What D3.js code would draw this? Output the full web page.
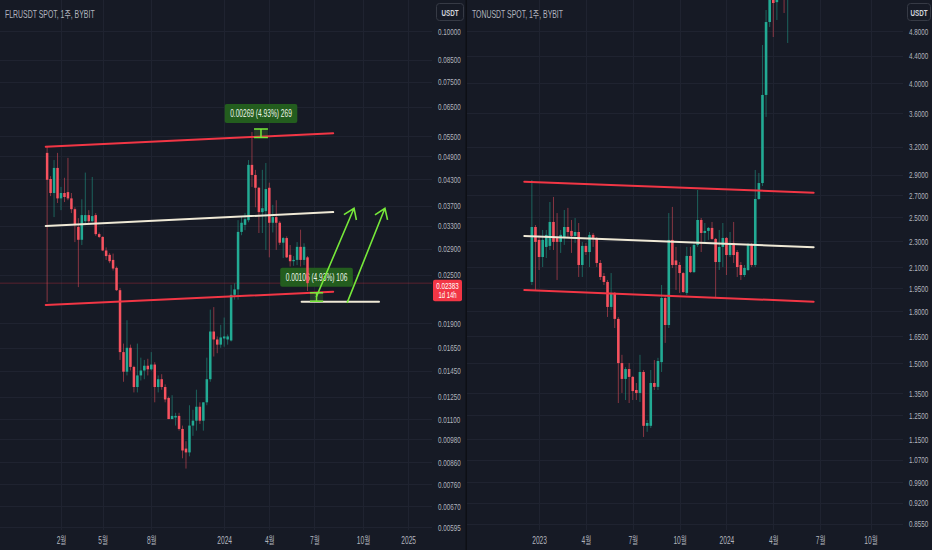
<!DOCTYPE html>
<html>
<head>
<meta charset="utf-8">
<script src="https://cdn.jsdelivr.net/npm/d3@7/dist/d3.min.js"></script>
<style>
  html, body { margin: 0; background: #161a25; }
  svg { display: block; }
</style>
</head>
<body>
<svg id="chart"></svg>
<script>
// ---------- FLR weekly ----------
const flrTitle = "FLRUSDT SPOT, 1주, BYBIT";
const flrStart = "2023-01-09";
// [open, high, low, close]
const flrCandles = [
  [0.0500,0.0517,0.0214,0.0429],[0.0431,0.0438,0.0391,0.0398],[0.0398,0.0480,0.0347,0.0459],
  [0.0459,0.0500,0.0376,0.0386],[0.0386,0.0412,0.0361,0.0398],[0.0398,0.0434,0.0378,0.0389],
  [0.0400,0.0486,0.0382,0.0386],[0.0386,0.0398,0.0355,0.0363],[0.0363,0.0367,0.0301,0.0332],
  [0.0328,0.0345,0.0233,0.0305],[0.0305,0.0384,0.0296,0.0351],[0.0339,0.0447,0.0332,0.0351],
  [0.0351,0.0361,0.0332,0.0339],[0.0339,0.0436,0.0337,0.0349],[0.0351,0.0355,0.0312,0.0315],
  [0.0315,0.0318,0.0308,0.0310],[0.0310,0.0311,0.0286,0.0287],[0.0287,0.0292,0.0272,0.0278],
  [0.0280,0.0283,0.0267,0.0270],[0.0272,0.0282,0.0256,0.0259],[0.0260,0.0262,0.0228,0.0229],
  [0.0229,0.0232,0.0154,0.0161],[0.0161,0.0169,0.0136,0.0144],[0.0144,0.0193,0.0141,0.0165],
  [0.0165,0.0168,0.0145,0.0148],[0.0148,0.0149,0.0128,0.0132],[0.0132,0.0169,0.0128,0.0141],
  [0.0141,0.0156,0.0137,0.0145],[0.0145,0.0154,0.0138,0.0149],[0.0149,0.0155,0.0141,0.0146],
  [0.0146,0.0161,0.0145,0.0150],[0.0150,0.0152,0.0121,0.0132],[0.0132,0.0141,0.0128,0.0138],
  [0.0138,0.0142,0.0130,0.0132],[0.0132,0.0134,0.0121,0.0123],[0.0124,0.0125,0.0110,0.0110],
  [0.0110,0.0126,0.0110,0.0112],[0.0111,0.0114,0.0106,0.0112],[0.0112,0.0114,0.0103,0.0104],
  [0.0104,0.0106,0.0088,0.0092],[0.0093,0.0097,0.0083,0.0091],[0.0091,0.0119,0.0089,0.0106],
  [0.0106,0.0116,0.0100,0.0109],[0.0109,0.0130,0.0103,0.0118],[0.0118,0.0121,0.0107,0.0109],
  [0.0109,0.0121,0.0103,0.0121],[0.0121,0.0156,0.0119,0.0138],[0.0138,0.0205,0.0136,0.0181],
  [0.0181,0.0208,0.0157,0.0173],[0.0173,0.0176,0.0160,0.0168],[0.0168,0.0188,0.0165,0.0175],
  [0.0174,0.0196,0.0166,0.0176],[0.0173,0.0178,0.0168,0.0176],[0.0172,0.0236,0.0171,0.0223],
  [0.0223,0.0238,0.0217,0.0230],[0.0230,0.0341,0.0217,0.0319],[0.0319,0.0347,0.0313,0.0336],
  [0.0332,0.0355,0.0322,0.0343],[0.0341,0.0480,0.0337,0.0467],[0.0467,0.0563,0.0412,0.0441],
  [0.0441,0.0454,0.0367,0.0410],[0.0410,0.0412,0.0317,0.0357],[0.0357,0.0454,0.0317,0.0365],
  [0.0359,0.0472,0.0288,0.0407],[0.0410,0.0422,0.0276,0.0336],[0.0336,0.0372,0.0318,0.0347],
  [0.0347,0.0382,0.0288,0.0336],[0.0336,0.0339,0.0296,0.0300],[0.0300,0.0310,0.0275,0.0308],
  [0.0308,0.0311,0.0275,0.0276],[0.0280,0.0296,0.0262,0.0270],[0.0270,0.0278,0.0263,0.0272],
  [0.0272,0.0301,0.0264,0.0293],[0.0293,0.0323,0.0262,0.0272],[0.0272,0.0299,0.0264,0.0293],
  [0.0276,0.0278,0.0228,0.02383]
];
const flrTicks = [0.1, 0.085, 0.075, 0.065, 0.055, 0.049, 0.043, 0.037, 0.033, 0.029, 0.025,
                  0.019, 0.0165, 0.0145, 0.0125, 0.011, 0.0098, 0.0086, 0.0076, 0.0067, 0.00595];
const flrMonths = [["2023-02-06","2월"],["2023-05-01","5월"],["2023-08-07","8월"],["2024-01-01","2024"],
                   ["2024-04-01","4월"],["2024-07-01","7월"],["2024-10-07","10월"],["2025-01-06","2025"]];
const flrLast = 0.02383, flrCountdown = "1d 14h";
// drawings: [bar index, price]
const flrUpper = [[-0.4, 0.0518], [82.4, 0.0559]];
const flrLower = [[-0.4, 0.02104], [82.4, 0.0227]];
const flrMid   = [[-0.4, 0.0330], [82.4, 0.0357]];
const flrBase  = [[73.3, 0.02144], [95.6, 0.02144]];
const flrArrows = [[[77.5, 0.0220], [88.4, 0.0365]], [[86.4, 0.0213], [97.3, 0.0365]]];
const flrRanges = [
  {from: 59.6, to: 63.6, low: 0.05458, high: 0.05727, text: "0.00269 (4.93%) 269"},
  {from: 75.7, to: 79.5, low: 0.02150, high: 0.02256, text: "0.00106 (4.93%) 106"}
];

// ---------- TON weekly ----------
const tonTitle = "TONUSDT SPOT, 1주, BYBIT";
const tonStart = "2022-12-19";
const tonCandles = [
  [1.994,2.849,1.973,2.417],[2.417,2.434,1.939,2.294],[2.310,2.334,2.079,2.176],[2.176,2.392,2.101,2.310],
  [2.254,2.392,2.168,2.351],[2.262,2.638,2.230,2.460],[2.460,2.685,2.230,2.294],[2.326,2.538,2.008,2.294],
  [2.294,2.392,2.207,2.351],[2.334,2.565,2.270,2.417],[2.417,2.584,2.334,2.375],[2.384,2.477,2.207,2.343],
  [2.343,2.494,2.286,2.375],[2.375,2.451,2.029,2.116],[2.116,2.294,2.029,2.262],[2.262,2.286,2.191,2.214],
  [2.214,2.375,2.101,2.351],[2.351,2.367,2.254,2.326],[2.326,2.334,2.101,2.131],[2.131,2.153,2.008,2.029],
  [2.036,2.057,1.973,1.994],[1.994,2.008,1.764,1.827],[1.827,2.057,1.808,1.919],[1.919,1.925,1.697,1.752],
  [1.752,1.764,1.305,1.501],[1.501,1.545,1.352,1.420],[1.420,1.480,1.319,1.470],[1.470,1.501,1.305,1.430],
  [1.430,1.435,1.319,1.361],[1.366,1.400,1.319,1.352],[1.352,1.545,1.310,1.455],[1.455,1.465,1.159,1.205],
  [1.205,1.230,1.180,1.217],[1.205,1.465,1.196,1.400],[1.400,1.517,1.366,1.381],[1.381,1.529,1.366,1.512],
  [1.506,1.973,1.455,1.885],[1.885,1.905,1.611,1.715],[1.715,2.538,1.697,2.310],[2.310,2.593,2.094,2.116],
  [2.150,2.254,1.939,2.116],[2.116,2.138,1.919,2.057],[2.057,2.064,1.919,1.925],[1.919,2.254,1.905,2.184],
  [2.184,2.254,2.057,2.064],[2.064,2.286,2.057,2.270],[2.270,2.751,2.254,2.477],[2.477,2.494,2.214,2.367],
  [2.367,2.451,2.286,2.384],[2.384,2.417,2.310,2.409],[2.409,2.460,2.310,2.318],[2.318,2.326,1.892,2.138],
  [2.138,2.392,2.079,2.254],[2.254,2.451,2.101,2.326],[2.326,2.334,2.043,2.191],[2.191,2.375,2.176,2.286],
  [2.286,2.460,2.131,2.191],[2.214,2.230,2.029,2.101],[2.116,2.138,2.008,2.043],[2.043,2.116,2.029,2.094],
  [2.079,2.286,2.072,2.270],[2.270,2.286,2.101,2.116],[2.116,2.951,2.101,2.666],[2.666,2.920,2.657,2.819],
  [2.819,4.570,2.790,3.837],[3.837,5.166,3.553,4.953],[4.953,6.300,4.868,5.900],[5.900,6.400,4.700,5.294],
  [5.310,6.200,4.988,5.800],[5.800,6.900,5.450,6.500],[6.500,7.300,5.112,6.200],[6.200,7.200,4.603,6.900]
];
const tonTicks = [4.8, 4.4, 4.0, 3.6, 3.2, 2.9, 2.7, 2.5, 2.3, 2.1, 1.95, 1.8, 1.65, 1.5,
                  1.35, 1.25, 1.15, 1.07, 0.99, 0.92, 0.855];
const tonMonths = [["2023-01-02","2023"],["2023-04-03","4월"],["2023-07-03","7월"],["2023-10-02","10월"],
                   ["2024-01-01","2024"],["2024-04-01","4월"],["2024-07-01","7월"],["2024-10-07","10월"]];
const tonUpper = [[-2.1, 2.832], [78.2, 2.725]];
const tonMid   = [[-2.1, 2.342], [78.2, 2.251]];
const tonLower = [[-2.1, 1.939], [78.2, 1.861]];

// ---------- look ----------
const W = 932, H = 550, plotH = 530;
const DAY = 864e5;
const SX = 0.66;   // screenshot text is horizontally squeezed
const FONT = "'Liberation Sans', Arial, 'Noto Sans CJK KR', sans-serif";
const BG = "#161a25", GRID = "#1f2330", TEXT = "#b2b5be";
const UP = "#22ab94", DOWN = "#f7525f";
const RED = "#f23645", CREAM = "#efe9d6", LIME = "#76e83a", LABEL = "#235d1e";

const parseDay = d3.utcParse("%Y-%m-%d");

const svg = d3.select("#chart").attr("width", W).attr("height", H)
  .style("background", BG);

function squeezed(sel, x, y, txt) {
  return sel.append("text")
    .attr("transform", `translate(${x},${y}) scale(${SX},1)`)
    .attr("font-family", FONT)
    .text(txt);
}

function drawPanel(p) {
  const g = svg.append("g").attr("transform", `translate(${p.x0},0)`);

  let x = d3.scaleUtc().domain(p.domain.map(parseDay)).range([0, p.plotW]),
      y = d3.scaleLog().domain(p.priceDomain).range([plotH, 0]);

  const t0 = parseDay(p.start);
  const bx = i => x(new Date(t0.getTime() + i * 7 * DAY));
  const step = bx(1) - bx(0),
        bw   = Math.max(1, step * 0.72);
  const pt = d => [bx(d[0]), y(d[1])];

  g.append("clipPath").attr("id", "clip-" + p.key)
    .append("rect").attr("width", p.plotW).attr("height", plotH);

  // grid
  g.append("g").selectAll("line").data(p.ticks).join("line")
    .attr("x1", 0).attr("x2", p.plotW)
    .attr("y1", d => Math.round(y(d)) + 0.5).attr("y2", d => Math.round(y(d)) + 0.5)
    .attr("stroke", GRID);
  g.append("g").selectAll("line").data(p.months).join("line")
    .attr("y1", 0).attr("y2", plotH)
    .attr("x1", d => Math.round(x(parseDay(d[0]))) + 0.5)
    .attr("x2", d => Math.round(x(parseDay(d[0]))) + 0.5)
    .attr("stroke", GRID);

  const plot = g.append("g").attr("clip-path", `url(#clip-${p.key})`);

  // last price line
  if (p.last) {
    plot.append("line")
      .attr("x1", 0).attr("x2", p.plotW)
      .attr("y1", y(p.last)).attr("y2", y(p.last))
      .attr("stroke", RED).attr("stroke-opacity", 0.3);
  }

  // price range labels (sit under the candles in the shot)
  (p.ranges || []).forEach(r => {
    const cx = (bx(r.from) + bx(r.to)) / 2,
          top = y(r.high);
    const t = squeezed(plot, 0, 0, r.text)
      .attr("font-size", 10).attr("fill", "#eef5ea").attr("text-anchor", "middle");
    const tw = t.node().getComputedTextLength() * SX + 11;
    plot.insert("rect", () => t.node())
      .attr("x", cx - tw / 2).attr("y", top - 25)
      .attr("width", tw).attr("height", 19).attr("rx", 2)
      .attr("fill", LABEL);
    t.attr("transform", `translate(${cx},${top - 12}) scale(${SX},1)`);
    plot.append("rect")
      .attr("x", bx(r.from)).attr("y", y(r.high))
      .attr("width", bx(r.to) - bx(r.from)).attr("height", y(r.low) - y(r.high))
      .attr("fill", LIME).attr("fill-opacity", 0.15);
  });

  // candles
  const c = plot.append("g").selectAll("g").data(p.candles).join("g");
  c.append("line")
    .attr("x1", (d, i) => bx(i)).attr("x2", (d, i) => bx(i))
    .attr("y1", d => y(d[1])).attr("y2", d => y(d[2]))
    .attr("stroke", d => d[3] >= d[0] ? UP : DOWN)
    .attr("stroke-opacity", 0.5);
  c.append("rect")
    .attr("x", (d, i) => bx(i) - bw / 2)
    .attr("width", bw)
    .attr("y", d => y(Math.max(d[0], d[3])))
    .attr("height", d => Math.max(1, Math.abs(y(d[0]) - y(d[3]))))
    .attr("fill", d => d[3] >= d[0] ? UP : DOWN);

  // trend lines
  p.lines.forEach(l => {
    plot.append("line")
      .attr("x1", pt(l.pts[0])[0]).attr("y1", pt(l.pts[0])[1])
      .attr("x2", pt(l.pts[1])[0]).attr("y2", pt(l.pts[1])[1])
      .attr("stroke", l.color).attr("stroke-width", l.w || 2)
      .attr("stroke-linecap", "round");
  });

  // arrows
  (p.arrows || []).forEach(a => {
    const [x1, y1] = pt(a[0]), [x2, y2] = pt(a[1]);
    const ang = Math.atan2(y2 - y1, x2 - x1), L = 12, th = 0.6;
    const path = d3.path();
    path.moveTo(x1, y1); path.lineTo(x2, y2);
    path.moveTo(x2 - L * Math.cos(ang - th), y2 - L * Math.sin(ang - th));
    path.lineTo(x2, y2);
    path.lineTo(x2 - L * Math.cos(ang + th), y2 - L * Math.sin(ang + th));
    plot.append("path").attr("d", path.toString())
      .attr("fill", "none").attr("stroke", LIME).attr("stroke-width", 1.6);
  });

  // price range brackets
  (p.ranges || []).forEach(r => {
    const xa = bx(r.from), xb = bx(r.to), xm = (xa + xb) / 2;
    const path = d3.path();
    path.moveTo(xa, y(r.high)); path.lineTo(xb, y(r.high));
    path.moveTo(xa, y(r.low));  path.lineTo(xb, y(r.low));
    path.moveTo(xm, y(r.high)); path.lineTo(xm, y(r.low));
    plot.append("path").attr("d", path.toString())
      .attr("fill", "none").attr("stroke", LIME).attr("stroke-width", 1.5);
  });

  // price axis
  g.append("g")
    .attr("transform", `translate(${p.plotW + 6},0)`)
    .attr("color", TEXT)
    .call(d3.axisRight(y).tickValues(p.ticks).tickFormat(d3.format(p.fmt)).tickSize(0).tickPadding(0))
    .call(a => a.select(".domain").remove())
    .call(a => a.selectAll("text")
      .attr("font-family", FONT).attr("font-size", 9.5)
      .attr("transform", `scale(${SX},1)`));

  // time axis
  g.append("g")
    .attr("transform", `translate(0,${plotH})`)
    .attr("color", TEXT)
    .call(d3.axisBottom(x).tickValues(p.months.map(m => parseDay(m[0])))
      .tickFormat((d, i) => p.months[i][1]).tickSize(0).tickPadding(7))
    .call(a => a.select(".domain").remove())
    .call(a => a.selectAll("text")
      .attr("font-family", FONT).attr("font-size", 10)
      .attr("transform", `scale(${SX},1)`));

  // last price tag
  if (p.last) {
    const ly = y(p.last);
    g.append("rect")
      .attr("x", p.plotW + 1).attr("y", ly - 3.5)
      .attr("width", 29).attr("height", 21.5).attr("rx", 2)
      .attr("fill", RED);
    squeezed(g, p.plotW + 15.5, ly + 5.5, d3.format(".5f")(p.last))
      .attr("font-size", 9.5).attr("fill", "#fff").attr("text-anchor", "middle");
    squeezed(g, p.plotW + 15.5, ly + 15, p.countdown)
      .attr("font-size", 9).attr("fill", "#fff").attr("text-anchor", "middle");
  }

  // currency button
  const bwid = Math.min(27, p.axisW - 6);
  g.append("rect")
    .attr("x", p.plotW + 4.5).attr("y", 3.5)
    .attr("width", bwid).attr("height", 17).attr("rx", 3)
    .attr("fill", BG).attr("stroke", "#363a45");
  squeezed(g, p.plotW + 4.5 + bwid / 2, 15.5, "USDT")
    .attr("font-size", 9.5).attr("font-weight", "bold")
    .attr("fill", "#d1d4dc").attr("text-anchor", "middle");

  // title
  squeezed(g, 5, 18, p.title).attr("font-size", 10.5).attr("fill", TEXT);
}

drawPanel({
  key: "flr", x0: 0, plotW: 432, axisW: 34,
  title: flrTitle, start: flrStart, candles: flrCandles,
  domain: ["2022-10-06", "2025-02-23"], priceDomain: [0.005853, 0.1193],
  ticks: flrTicks, fmt: ".5f", months: flrMonths,
  last: flrLast, countdown: flrCountdown,
  lines: [
    {pts: flrUpper, color: RED}, {pts: flrLower, color: RED},
    {pts: flrMid, color: CREAM}, {pts: flrBase, color: CREAM}
  ],
  arrows: flrArrows, ranges: flrRanges
});

drawPanel({
  key: "ton", x0: 467, plotW: 436, axisW: 29,
  title: tonTitle, start: tonStart, candles: tonCandles,
  domain: ["2022-08-15", "2024-12-09"], priceDomain: [0.8368, 5.35],
  ticks: tonTicks, fmt: ".4f", months: tonMonths,
  lines: [
    {pts: tonUpper, color: RED}, {pts: tonLower, color: RED}, {pts: tonMid, color: CREAM}
  ]
});

// panel separator
svg.append("rect").attr("x", 465.5).attr("y", 0).attr("width", 1.5).attr("height", H)
  .attr("fill", "#0d0f15");
</script>
</body>
</html>
